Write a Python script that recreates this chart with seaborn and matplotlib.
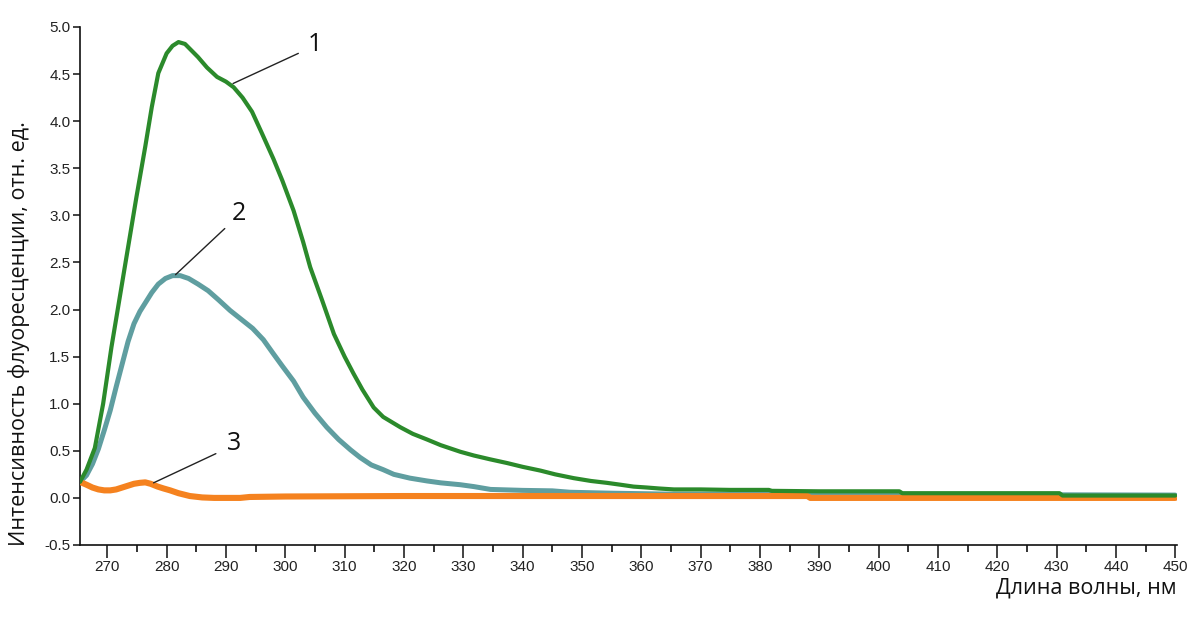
import numpy as np
import pandas as pd
import matplotlib
matplotlib.use("Agg")
import matplotlib.pyplot as plt
import seaborn as sns
from matplotlib.ticker import MultipleLocator, FormatStrFormatter
from matplotlib import font_manager

# ---------------- data ----------------
wl_1 = [265.4, 266.5, 267.9, 269.3, 270.7, 272.1, 273.5, 274.9, 276.4, 277.5,
        278.6, 280.0, 281.0, 282.0, 283.1, 285.3, 286.8,
        288.5, 290.0, 291.3, 292.8, 294.4, 296.0, 298.0, 299.5, 301.4, 303.0,
        304.2, 306.2, 308.2, 310.0, 311.5, 313.0, 314.9, 316.5, 319.4, 321.5,
        323.9, 326.2, 329.5, 331.8, 334.5, 337.4, 340.0, 343.0, 345.5, 348.6,
        351.5, 354.2, 356.5, 358.7, 361.0, 363.0, 365.5, 370.0, 375.0, 381.5,
        382.0, 390.0, 403.5, 404.0, 420.0, 430.5, 431.0, 450.0]
int_1 = [0.17, 0.30, 0.53, 1.00, 1.60, 2.13, 2.66, 3.19, 3.73, 4.15,
         4.51, 4.72, 4.80, 4.84, 4.82, 4.68, 4.57,
         4.47, 4.42, 4.36, 4.25, 4.10, 3.88, 3.60, 3.37, 3.05, 2.72,
         2.45, 2.10, 1.74, 1.50, 1.32, 1.15, 0.96, 0.86, 0.75, 0.68,
         0.62, 0.56, 0.49, 0.45, 0.41, 0.37, 0.33, 0.29, 0.25, 0.21,
         0.18, 0.16, 0.14, 0.12, 0.11, 0.10, 0.09, 0.09, 0.085, 0.085,
         0.075, 0.07, 0.07, 0.05, 0.05, 0.05, 0.025, 0.025]

wl_2 = [265.4, 266.5, 267.5, 268.5, 269.5, 270.5, 271.5, 272.5, 273.5, 274.5,
        275.5, 276.5, 277.5, 278.6, 279.8, 281.0, 282.3, 283.7, 285.3, 287.0,
        288.8, 290.7, 292.5, 294.5, 296.3, 298.0, 299.5, 301.4, 303.0, 305.0,
        307.0, 309.0, 311.0, 312.6, 314.5, 316.5, 318.3, 321.0, 323.9, 326.2,
        329.5, 331.8, 334.6, 340.0, 345.0, 348.0, 355.0, 365.0, 380.0, 450.0]
int_2 = [0.17, 0.24, 0.36, 0.52, 0.72, 0.93, 1.18, 1.42, 1.66, 1.85,
         1.98, 2.08, 2.18, 2.27, 2.33, 2.36, 2.36, 2.33, 2.27, 2.20,
         2.10, 1.99, 1.90, 1.80, 1.68, 1.53, 1.40, 1.24, 1.07, 0.90,
         0.75, 0.62, 0.51, 0.43, 0.35, 0.30, 0.25, 0.21, 0.18, 0.16,
         0.14, 0.12, 0.09, 0.08, 0.075, 0.06, 0.05, 0.04, 0.04, 0.03]

wl_3 = [265.4, 266.5, 267.5, 268.5, 269.5, 270.5, 271.5, 272.5, 273.5, 274.5,
        275.5, 276.4, 277.3, 278.5, 279.5, 280.6, 282.0, 283.9, 286.0, 288.0,
        292.4, 294.0, 300.0, 320.0, 350.0, 388.0, 388.5, 450.0]
int_3 = [0.17, 0.14, 0.11, 0.09, 0.08, 0.08, 0.09, 0.11, 0.13, 0.15,
         0.16, 0.165, 0.15, 0.12, 0.10, 0.08, 0.05, 0.02, 0.005, 0.0,
         0.0, 0.01, 0.015, 0.02, 0.02, 0.02, 0.0, 0.0]

# curve labels: text, point on curve, end of leader line, label centre (data units)
curve_labels = ["1", "2", "3"]
label_xy = [(291.2, 4.40), (281.5, 2.37), (277.8, 0.16)]
label_line_end = [(302.2, 4.72), (289.8, 2.86), (288.3, 0.47)]
label_pos = [(305.0, 4.81), (292.2, 3.02), (291.4, 0.58)]

x_ticks = list(range(270, 451, 10))
y_ticks = [-0.5, 0.0, 0.5, 1.0, 1.5, 2.0, 2.5, 3.0, 3.5, 4.0, 4.5, 5.0]
x_label = "Длина волны, нм"
y_label = "Интенсивность флуоресценции, отн. ед."

colors = {"1": "#2b8a2b", "2": "#5f9ea0", "3": "#f5821f"}

# ---------------- figure ----------------
sns.set_theme(style="ticks")
names = {f.name for f in font_manager.fontManager.ttflist}
tick_family = ["Liberation Sans Narrow"] if "Liberation Sans Narrow" in names else ["Liberation Sans"]
plt.rcParams["font.family"] = tick_family + ["DejaVu Sans"]
tick_size = 13 if tick_family[0] == "Liberation Sans Narrow" else 11

fig = plt.figure(figsize=(11.87, 6.21), dpi=100)
ax = fig.add_axes([80 / 1187, 1 - 545 / 621, (1177 - 80) / 1187, (545 - 27) / 621])

df2 = pd.DataFrame({"wl": wl_2, "I": int_2})
df3 = pd.DataFrame({"wl": wl_3, "I": int_3})
df1 = pd.DataFrame({"wl": wl_1, "I": int_1})

sns.lineplot(data=df2, x="wl", y="I", ax=ax, color=colors["2"], lw=3.6,
             sort=False, zorder=2)
sns.lineplot(data=df3, x="wl", y="I", ax=ax, color=colors["3"], lw=4.4,
             sort=False, zorder=3)
sns.lineplot(data=df1, x="wl", y="I", ax=ax, color=colors["1"], lw=3.0,
             sort=False, zorder=4)

for lab, (px, py), (tx, ty), (lx, ly) in zip(curve_labels, label_xy,
                                              label_line_end, label_pos):
    ax.annotate("", xy=(px, py), xytext=(tx, ty),
                arrowprops=dict(arrowstyle="-", color="#222222", lw=1.0,
                                shrinkA=0, shrinkB=0), zorder=5)
    ax.text(lx, ly, lab, fontsize=18, color="#111111",
            family=["Open Sans", "DejaVu Sans"], ha="center", va="center")

ax.set_xlim(265.4, 450.3)
ax.set_ylim(-0.5, 5.0)
ax.set_xticks(x_ticks)
ax.xaxis.set_minor_locator(MultipleLocator(5))
ax.set_yticks(y_ticks)
ax.yaxis.set_major_formatter(FormatStrFormatter("%.1f"))

for s in ["top", "right"]:
    ax.spines[s].set_visible(False)
for s in ["left", "bottom"]:
    ax.spines[s].set_linewidth(1.2)
    ax.spines[s].set_color("#111111")

ax.tick_params(axis="x", which="major", length=9, width=1.2, pad=2,
               labelsize=tick_size, colors="#222222")
ax.tick_params(axis="x", which="minor", length=5, width=1.2, colors="#111111")
ax.tick_params(axis="y", which="major", length=5, width=1.2, pad=2,
               labelsize=tick_size, colors="#222222")
ax.set_xlabel("")
ax.set_ylabel("")

fig.text(1176 / 1187, 1 - 594 / 621, x_label, ha="right", va="baseline",
         fontsize=15.5, family=["Open Sans", "DejaVu Sans"], color="#111111")
fig.text(19 / 1187, 1 - 546 / 621, y_label, ha="center", va="bottom",
         rotation=90, fontsize=15.5, family=["Open Sans", "DejaVu Sans"],
         color="#111111")

fig.savefig("out.png", dpi=100, facecolor="white")
